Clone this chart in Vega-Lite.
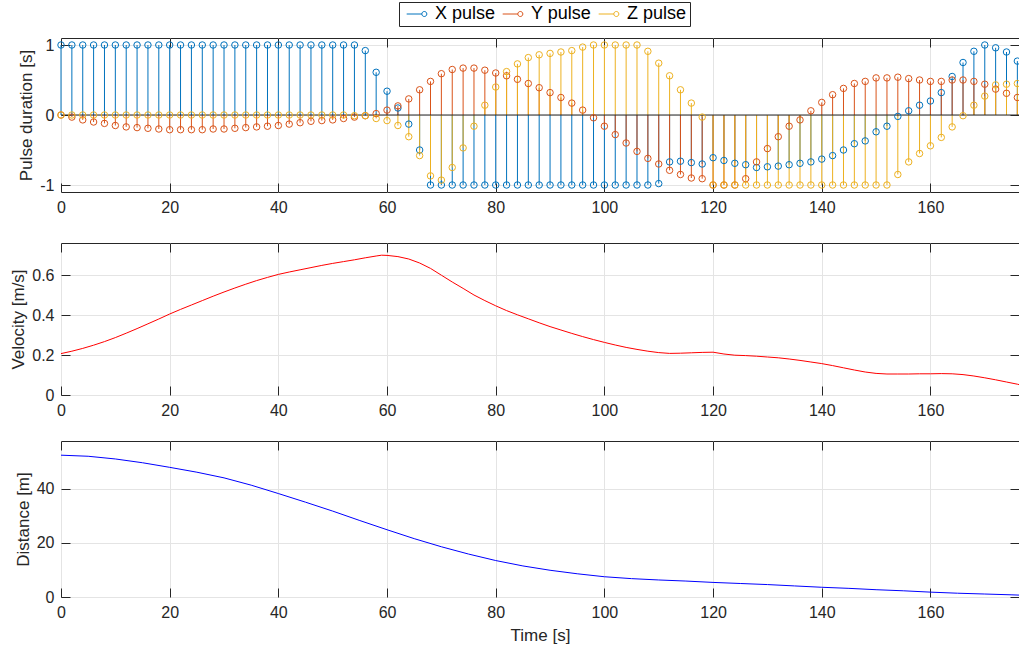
{
  "$schema": "https://vega.github.io/schema/vega-lite/v6.json",
  "padding": {"left": 9, "top": 1, "right": 0, "bottom": 0},
  "bounds": "flush",
  "spacing": 51,
  "datasets": {
    "stems": [
      {"t": 0, "x": 1, "y": 0, "z": 0},
      {"t": 2, "x": 1, "y": -0.03, "z": 0},
      {"t": 4, "x": 1, "y": -0.07, "z": 0},
      {"t": 6, "x": 1, "y": -0.10, "z": 0},
      {"t": 8, "x": 1, "y": -0.12, "z": 0},
      {"t": 10, "x": 1, "y": -0.15, "z": 0},
      {"t": 12, "x": 1, "y": -0.17, "z": 0},
      {"t": 14, "x": 1, "y": -0.18, "z": 0},
      {"t": 16, "x": 1, "y": -0.19, "z": 0},
      {"t": 18, "x": 1, "y": -0.20, "z": 0},
      {"t": 20, "x": 1, "y": -0.21, "z": 0},
      {"t": 22, "x": 1, "y": -0.21, "z": 0},
      {"t": 24, "x": 1, "y": -0.21, "z": 0},
      {"t": 26, "x": 1, "y": -0.21, "z": 0},
      {"t": 28, "x": 1, "y": -0.20, "z": 0},
      {"t": 30, "x": 1, "y": -0.20, "z": 0},
      {"t": 32, "x": 1, "y": -0.19, "z": 0},
      {"t": 34, "x": 1, "y": -0.18, "z": 0},
      {"t": 36, "x": 1, "y": -0.17, "z": 0},
      {"t": 38, "x": 1, "y": -0.16, "z": 0},
      {"t": 40, "x": 1, "y": -0.15, "z": 0},
      {"t": 42, "x": 1, "y": -0.13, "z": 0},
      {"t": 44, "x": 1, "y": -0.11, "z": 0},
      {"t": 46, "x": 1, "y": -0.09, "z": 0},
      {"t": 48, "x": 1, "y": -0.08, "z": 0},
      {"t": 50, "x": 1, "y": -0.07, "z": 0},
      {"t": 52, "x": 1, "y": -0.05, "z": 0},
      {"t": 54, "x": 1, "y": -0.03, "z": -0.01},
      {"t": 56, "x": 0.92, "y": -0.01, "z": -0.01},
      {"t": 58, "x": 0.61, "y": 0.02, "z": -0.05},
      {"t": 60, "x": 0.34, "y": 0.07, "z": -0.08},
      {"t": 62, "x": 0.10, "y": 0.13, "z": -0.15},
      {"t": 64, "x": -0.13, "y": 0.23, "z": -0.31},
      {"t": 66, "x": -0.50, "y": 0.36, "z": -0.58},
      {"t": 68, "x": -1, "y": 0.48, "z": -0.87},
      {"t": 70, "x": -1, "y": 0.59, "z": -0.93},
      {"t": 72, "x": -1, "y": 0.65, "z": -0.75},
      {"t": 74, "x": -1, "y": 0.67, "z": -0.47},
      {"t": 76, "x": -1, "y": 0.67, "z": -0.16},
      {"t": 78, "x": -1, "y": 0.64, "z": 0.14},
      {"t": 80, "x": -1, "y": 0.60, "z": 0.40},
      {"t": 82, "x": -1, "y": 0.56, "z": 0.62},
      {"t": 84, "x": -1, "y": 0.51, "z": 0.73},
      {"t": 86, "x": -1, "y": 0.45, "z": 0.82},
      {"t": 88, "x": -1, "y": 0.39, "z": 0.86},
      {"t": 90, "x": -1, "y": 0.32, "z": 0.88},
      {"t": 92, "x": -1, "y": 0.25, "z": 0.90},
      {"t": 94, "x": -1, "y": 0.17, "z": 0.92},
      {"t": 96, "x": -1, "y": 0.07, "z": 0.97},
      {"t": 98, "x": -1, "y": -0.04, "z": 1},
      {"t": 100, "x": -1, "y": -0.16, "z": 1},
      {"t": 102, "x": -1, "y": -0.28, "z": 1},
      {"t": 104, "x": -1, "y": -0.40, "z": 1},
      {"t": 106, "x": -1, "y": -0.52, "z": 1},
      {"t": 108, "x": -1, "y": -0.62, "z": 0.91},
      {"t": 110, "x": -0.98, "y": -0.70, "z": 0.74},
      {"t": 112, "x": -0.67, "y": -0.79, "z": 0.56},
      {"t": 114, "x": -0.66, "y": -0.85, "z": 0.36},
      {"t": 116, "x": -0.68, "y": -0.90, "z": 0.17},
      {"t": 118, "x": -0.70, "y": -0.91, "z": -0.03},
      {"t": 120, "x": -0.61, "y": -1, "z": -1},
      {"t": 122, "x": -0.65, "y": -1, "z": -1},
      {"t": 124, "x": -0.69, "y": -1, "z": -1},
      {"t": 126, "x": -0.71, "y": -0.91, "z": -1},
      {"t": 128, "x": -0.75, "y": -0.67, "z": -1},
      {"t": 130, "x": -0.74, "y": -0.48, "z": -1},
      {"t": 132, "x": -0.73, "y": -0.31, "z": -1},
      {"t": 134, "x": -0.71, "y": -0.16, "z": -1},
      {"t": 136, "x": -0.69, "y": -0.07, "z": -1},
      {"t": 138, "x": -0.67, "y": 0.06, "z": -1},
      {"t": 140, "x": -0.63, "y": 0.18, "z": -1},
      {"t": 142, "x": -0.58, "y": 0.29, "z": -1},
      {"t": 144, "x": -0.50, "y": 0.38, "z": -1},
      {"t": 146, "x": -0.41, "y": 0.45, "z": -1},
      {"t": 148, "x": -0.37, "y": 0.48, "z": -1},
      {"t": 150, "x": -0.24, "y": 0.53, "z": -1},
      {"t": 152, "x": -0.16, "y": 0.53, "z": -1},
      {"t": 154, "x": -0.02, "y": 0.54, "z": -0.85},
      {"t": 156, "x": 0.06, "y": 0.52, "z": -0.67},
      {"t": 158, "x": 0.14, "y": 0.50, "z": -0.55},
      {"t": 160, "x": 0.20, "y": 0.48, "z": -0.44},
      {"t": 162, "x": 0.32, "y": 0.48, "z": -0.32},
      {"t": 164, "x": 0.55, "y": 0.50, "z": -0.17},
      {"t": 166, "x": 0.75, "y": 0.50, "z": -0.01},
      {"t": 168, "x": 0.91, "y": 0.48, "z": 0.14},
      {"t": 170, "x": 1, "y": 0.44, "z": 0.27},
      {"t": 172, "x": 0.96, "y": 0.37, "z": 0.43},
      {"t": 174, "x": 0.90, "y": 0.31, "z": 0.44},
      {"t": 176, "x": 0.77, "y": 0.25, "z": 0.45}
    ],
    "velocity": [
      {"t": 0, "v": 0.207}, {"t": 2, "v": 0.219}, {"t": 4, "v": 0.233}, {"t": 6, "v": 0.249},
      {"t": 8, "v": 0.267}, {"t": 10, "v": 0.287}, {"t": 12, "v": 0.309}, {"t": 14, "v": 0.332},
      {"t": 16, "v": 0.356}, {"t": 18, "v": 0.380}, {"t": 20, "v": 0.405}, {"t": 22, "v": 0.428},
      {"t": 24, "v": 0.450}, {"t": 26, "v": 0.472}, {"t": 28, "v": 0.494}, {"t": 30, "v": 0.515},
      {"t": 32, "v": 0.535}, {"t": 34, "v": 0.554}, {"t": 36, "v": 0.572}, {"t": 38, "v": 0.588},
      {"t": 40, "v": 0.603}, {"t": 42, "v": 0.615}, {"t": 44, "v": 0.626}, {"t": 46, "v": 0.637},
      {"t": 48, "v": 0.648}, {"t": 50, "v": 0.658}, {"t": 52, "v": 0.667}, {"t": 54, "v": 0.676},
      {"t": 56, "v": 0.686}, {"t": 58, "v": 0.695}, {"t": 59, "v": 0.699}, {"t": 60, "v": 0.698},
      {"t": 62, "v": 0.692}, {"t": 64, "v": 0.680}, {"t": 66, "v": 0.660}, {"t": 68, "v": 0.633},
      {"t": 70, "v": 0.599}, {"t": 72, "v": 0.565}, {"t": 74, "v": 0.533}, {"t": 76, "v": 0.500},
      {"t": 78, "v": 0.472}, {"t": 80, "v": 0.446}, {"t": 82, "v": 0.422}, {"t": 84, "v": 0.401},
      {"t": 86, "v": 0.381}, {"t": 88, "v": 0.361}, {"t": 90, "v": 0.342}, {"t": 92, "v": 0.325},
      {"t": 94, "v": 0.308}, {"t": 96, "v": 0.292}, {"t": 98, "v": 0.277}, {"t": 100, "v": 0.263},
      {"t": 102, "v": 0.250}, {"t": 104, "v": 0.238}, {"t": 106, "v": 0.228}, {"t": 108, "v": 0.219},
      {"t": 110, "v": 0.212}, {"t": 112, "v": 0.208}, {"t": 114, "v": 0.209}, {"t": 116, "v": 0.211},
      {"t": 118, "v": 0.213}, {"t": 120, "v": 0.214}, {"t": 122, "v": 0.205}, {"t": 124, "v": 0.199},
      {"t": 126, "v": 0.197}, {"t": 128, "v": 0.194}, {"t": 130, "v": 0.190}, {"t": 132, "v": 0.186},
      {"t": 134, "v": 0.180}, {"t": 136, "v": 0.173}, {"t": 138, "v": 0.165}, {"t": 140, "v": 0.157},
      {"t": 142, "v": 0.147}, {"t": 144, "v": 0.136}, {"t": 146, "v": 0.125}, {"t": 148, "v": 0.115},
      {"t": 150, "v": 0.108}, {"t": 152, "v": 0.105}, {"t": 154, "v": 0.105}, {"t": 156, "v": 0.105},
      {"t": 158, "v": 0.106}, {"t": 160, "v": 0.106}, {"t": 162, "v": 0.107}, {"t": 164, "v": 0.106},
      {"t": 166, "v": 0.102}, {"t": 168, "v": 0.095}, {"t": 170, "v": 0.086}, {"t": 172, "v": 0.076},
      {"t": 174, "v": 0.065}, {"t": 176, "v": 0.054}, {"t": 176.3, "v": 0.052}
    ],
    "distance": [
      {"t": 0, "d": 52.5}, {"t": 5, "d": 52.1}, {"t": 10, "d": 51.1}, {"t": 15, "d": 49.7},
      {"t": 20, "d": 48.0}, {"t": 25, "d": 46.2}, {"t": 30, "d": 44.1}, {"t": 35, "d": 41.4},
      {"t": 40, "d": 38.3}, {"t": 45, "d": 35.1}, {"t": 50, "d": 31.8}, {"t": 55, "d": 28.3},
      {"t": 60, "d": 24.9}, {"t": 65, "d": 21.6}, {"t": 70, "d": 18.6}, {"t": 75, "d": 15.9},
      {"t": 80, "d": 13.5}, {"t": 85, "d": 11.5}, {"t": 90, "d": 9.9}, {"t": 95, "d": 8.6},
      {"t": 100, "d": 7.5}, {"t": 105, "d": 6.8}, {"t": 110, "d": 6.3}, {"t": 115, "d": 5.9},
      {"t": 120, "d": 5.4}, {"t": 125, "d": 5.0}, {"t": 130, "d": 4.6}, {"t": 135, "d": 4.1},
      {"t": 140, "d": 3.6}, {"t": 145, "d": 3.2}, {"t": 150, "d": 2.7}, {"t": 155, "d": 2.3},
      {"t": 160, "d": 1.8}, {"t": 165, "d": 1.4}, {"t": 170, "d": 1.1}, {"t": 175, "d": 0.8},
      {"t": 176.3, "d": 0.7}
    ],
    "zeroLine": [{"base": 0}]
  },
  "vconcat": [
    {
      "width": 958,
      "height": 154,
      "data": {"name": "stems"},
      "layer": [
        {
          "transform": [{"fold": ["x", "y", "z"], "as": ["axis", "value"]}],
          "mark": {"type": "rule", "strokeWidth": 1},
          "encoding": {
            "x": {"field": "t", "type": "quantitative",
                  "scale": {"domain": [0, 176.3], "nice": false, "zero": false},
                  "axis": {"orient": "bottom", "title": null, "grid": true, "values": [0, 20, 40, 60, 80, 100, 120, 140, 160]}},
            "y": {"field": "value", "type": "quantitative",
                  "scale": {"domain": [-1.1, 1.1], "nice": false},
                  "axis": {"orient": "left", "title": "Pulse duration [s]", "grid": true, "values": [-1, 0, 1],
                           "labelExpr": "datum.value < 0 ? '-' + format(-datum.value, 'd') : format(datum.value, 'd')"}},
            "y2": {"datum": 0},
            "color": {"field": "axis", "type": "nominal",
                      "scale": {"domain": ["x", "y", "z"], "range": ["#0072BD", "#D95319", "#EDB120"]},
                      "legend": {"orient": "none", "legendX": 338, "legendY": -36, "direction": "horizontal", "title": null,
                                 "symbolType": "M-0.72,0H1.8M2.64,0A0.42,0.42 0 1,1 1.8,0A0.42,0.42 0 1,1 2.64,0",
                                 "symbolSize": 144, "symbolStrokeWidth": 1, "labelOffset": 15, "columnPadding": 2,
                                 "padding": 3, "strokeColor": "#262626", "fillColor": "#ffffff",
                                 "labelFont": "Liberation Sans", "labelFontSize": 18, "labelColor": "#000000",
                                 "labelExpr": "upper(datum.label) + ' pulse'"}}
          }
        },
        {
          "data": {"name": "zeroLine"},
          "mark": {"type": "rule", "color": "#262626", "strokeWidth": 1},
          "encoding": {
            "y": {"field": "base", "type": "quantitative", "axis": null}
          }
        },
        {
          "transform": [{"fold": ["x", "y", "z"], "as": ["axis", "value"]}],
          "mark": {"type": "point", "shape": "circle", "filled": false, "size": 42, "strokeWidth": 1, "opacity": 1},
          "encoding": {
            "x": {"field": "t", "type": "quantitative",
                  "axis": {"orient": "top", "title": null, "labels": false, "grid": false, "values": [0, 20, 40, 60, 80, 100, 120, 140, 160]}},
            "y": {"field": "value", "type": "quantitative",
                  "axis": {"orient": "right", "title": null, "labels": false, "grid": false, "values": [-1, 0, 1]}},
            "color": {"field": "axis", "type": "nominal",
                      "legend": {"orient": "none", "legendX": 338, "legendY": -36, "direction": "horizontal", "title": null,
                                 "symbolType": "M-0.72,0H1.8M2.64,0A0.42,0.42 0 1,1 1.8,0A0.42,0.42 0 1,1 2.64,0",
                                 "symbolSize": 144, "symbolStrokeWidth": 1, "labelOffset": 15, "columnPadding": 2,
                                 "padding": 3, "strokeColor": "#262626", "fillColor": "#ffffff",
                                 "labelFont": "Liberation Sans", "labelFontSize": 18, "labelColor": "#000000",
                                 "labelExpr": "upper(datum.label) + ' pulse'"}}
          }
        }
      ],
      "resolve": {"axis": {"x": "independent", "y": "independent"}}
    },
    {
      "spacing": 46,
      "bounds": "flush",
      "vconcat": [
        {
          "width": 958,
          "height": 152,
          "layer": [
            {
              "data": {"name": "velocity"},
              "mark": {"type": "line", "color": "#FF0000", "strokeWidth": 1},
              "encoding": {
                "x": {"field": "t", "type": "quantitative",
                      "scale": {"domain": [0, 176.3], "nice": false, "zero": false},
                      "axis": {"orient": "bottom", "title": null, "grid": true, "values": [0, 20, 40, 60, 80, 100, 120, 140, 160]}},
                "y": {"field": "v", "type": "quantitative",
                      "scale": {"domain": [0, 0.76], "nice": false},
                      "axis": {"orient": "left", "title": "Velocity [m/s]", "grid": true, "values": [0, 0.2, 0.4, 0.6], "format": "~g"}}
              }
            },
            {
              "data": {"values": []},
              "mark": {"type": "rule"},
              "encoding": {
                "x": {"field": "t", "type": "quantitative",
                      "axis": {"orient": "top", "title": null, "labels": false, "grid": false, "values": [0, 20, 40, 60, 80, 100, 120, 140, 160]}},
                "y": {"field": "v", "type": "quantitative",
                      "axis": {"orient": "right", "title": null, "labels": false, "grid": false, "values": [0, 0.2, 0.4, 0.6]}}
              }
            }
          ],
          "resolve": {"axis": {"x": "independent", "y": "independent"}}
        },
        {
          "width": 958,
          "height": 156,
          "layer": [
            {
              "data": {"name": "distance"},
              "mark": {"type": "line", "color": "#0000FF", "strokeWidth": 1},
              "encoding": {
                "x": {"field": "t", "type": "quantitative",
                      "scale": {"domain": [0, 176.3], "nice": false, "zero": false},
                      "axis": {"orient": "bottom", "title": "Time [s]", "titlePadding": 7, "grid": true, "values": [0, 20, 40, 60, 80, 100, 120, 140, 160]}},
                "y": {"field": "d", "type": "quantitative",
                      "scale": {"domain": [0, 57.75], "nice": false},
                      "axis": {"orient": "left", "title": "Distance [m]", "grid": true, "values": [0, 20, 40], "format": "d"}}
              }
            },
            {
              "data": {"values": []},
              "mark": {"type": "rule"},
              "encoding": {
                "x": {"field": "t", "type": "quantitative",
                      "axis": {"orient": "top", "title": null, "labels": false, "grid": false, "values": [0, 20, 40, 60, 80, 100, 120, 140, 160]}},
                "y": {"field": "d", "type": "quantitative",
                      "axis": {"orient": "right", "title": null, "labels": false, "grid": false, "values": [0, 20, 40]}}
              }
            }
          ],
          "resolve": {"axis": {"x": "independent", "y": "independent"}}
        }
      ]
    }
  ],
  "config": {
    "font": "Liberation Sans",
    "view": {"stroke": "#262626", "strokeWidth": 1},
    "axis": {
      "labelFont": "Liberation Sans",
      "labelFontSize": 16,
      "labelColor": "#262626",
      "titleFont": "Liberation Sans",
      "titleFontSize": 17,
      "titleFontWeight": "normal",
      "titleColor": "#262626",
      "titlePadding": 4,
      "tickColor": "#262626",
      "tickSize": -9,
      "tickWidth": 1,
      "labelPadding": 16,
      "labelFlush": false,
      "gridColor": "#e4e4e4",
      "gridWidth": 1,
      "domain": false
    }
  }
}
